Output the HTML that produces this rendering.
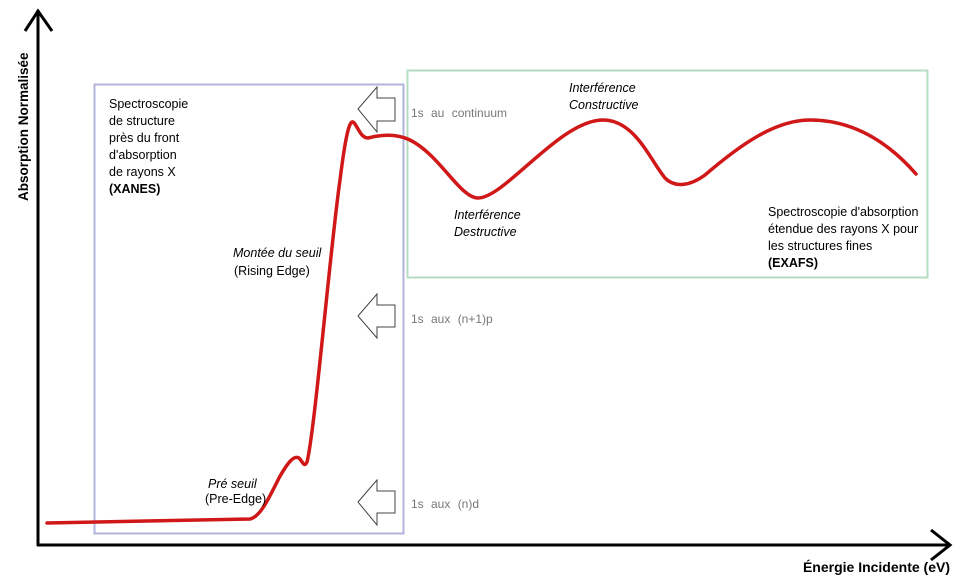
<!DOCTYPE html>
<html><head><meta charset="utf-8"><style>
html,body{margin:0;padding:0;background:#fff;}
svg{display:block;}
text{font-family:"Liberation Sans",sans-serif;}
</style></head><body>
<svg width="960" height="582" viewBox="0 0 960 582" xmlns="http://www.w3.org/2000/svg">
<rect x="94.5" y="84.5" width="309" height="449" fill="none" stroke="#b3b3de" stroke-width="2"/>
<rect x="407.5" y="70.5" width="520" height="207" fill="none" stroke="#b5dcc0" stroke-width="2"/>
<line x1="38" y1="10" x2="38" y2="546" stroke="#000" stroke-width="3"/>
<polyline points="25,31 38,11 52,31" fill="none" stroke="#000" stroke-width="3"/>
<line x1="37" y1="545" x2="950" y2="545" stroke="#000" stroke-width="3"/>
<polyline points="931,530 950,545 931,560" fill="none" stroke="#000" stroke-width="3"/>
<text transform="translate(28,201) rotate(-90)" font-size="13.5" font-weight="bold">Absorption Normalisée</text>
<text x="950" y="572" font-size="14" font-weight="bold" text-anchor="end">Énergie Incidente (eV)</text>
<g fill="#fff" stroke="#444" stroke-width="1">
<polygon points="358,109 377,87 377,98 395,98 395,121 377,121 377,132"/>
<polygon points="358,316 377,294 377,305 395,305 395,327 377,327 377,338"/>
<polygon points="358,502 377,480 377,491 395,491 395,513 377,513 377,525"/>
</g>
<g font-size="12" fill="#777" word-spacing="4">
<text x="411" y="117">1s au continuum</text>
<text x="411" y="323">1s aux (n+1)p</text>
<text x="411" y="508">1s aux (n)d</text>
</g>
<path d="M47,523 L250,519 C260,517 268,500 279,478 C288,462 294,455 299,458 C303,462 304,468 307,462 C315,430 330,250 340,180 C345,140 349,120 353,122 C357,124 360,138 368,138 C380,135 395,133 410,140 C440,155 460,198 478,198 C505,198 560,120 603,120 C635,120 650,160 665,178 C675,188 690,186 705,175 C740,145 775,120 810,120 C860,120 895,150 916,174"
 fill="none" stroke="#d01818" stroke-width="3.5" stroke-linejoin="round" stroke-linecap="round"/>
<g font-size="12.5" fill="#000">
<text x="109" y="108">Spectroscopie</text>
<text x="109" y="125">de structure</text>
<text x="109" y="142">près du front</text>
<text x="109" y="159">d'absorption</text>
<text x="109" y="176">de rayons X</text>
<text x="109" y="193" font-weight="bold">(XANES)</text>
<text x="233" y="257" font-style="italic">Montée du seuil</text>
<text x="234" y="275">(Rising Edge)</text>
<text x="208" y="488" font-style="italic">Pré seuil</text>
<text x="205" y="503">(Pre-Edge)</text>
<text x="569" y="92" font-style="italic">Interférence</text>
<text x="569" y="109" font-style="italic">Constructive</text>
<text x="454" y="219" font-style="italic">Interférence</text>
<text x="454" y="236" font-style="italic">Destructive</text>
<text x="768" y="216">Spectroscopie d'absorption</text>
<text x="768" y="233">étendue des rayons X pour</text>
<text x="768" y="250">les structures fines</text>
<text x="768" y="267" font-weight="bold">(EXAFS)</text>
</g>
</svg>
</body></html>
